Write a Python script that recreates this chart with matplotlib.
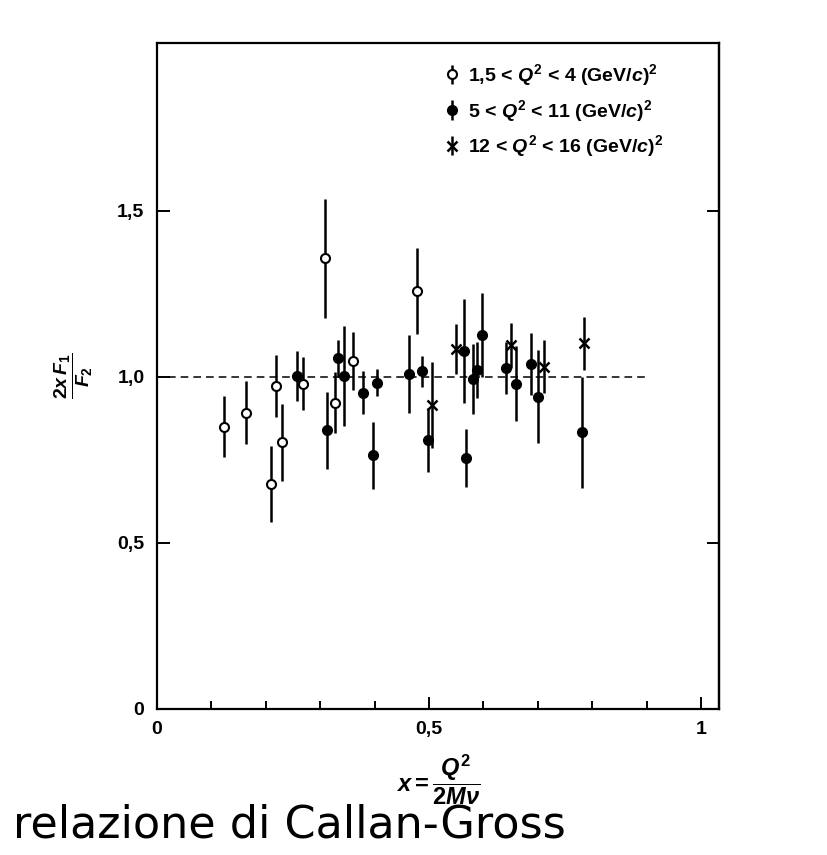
import matplotlib
matplotlib.use("Agg")
import matplotlib.pyplot as plt
from matplotlib.container import ErrorbarContainer
from matplotlib.legend_handler import HandlerErrorbar
from matplotlib.ticker import FixedLocator, MultipleLocator

plt.rcParams["font.family"] = ["Liberation Sans", "DejaVu Sans"]
plt.rcParams["font.weight"] = "bold"
plt.rcParams["mathtext.fontset"] = "custom"
plt.rcParams["mathtext.rm"] = "Liberation Sans:bold"
plt.rcParams["mathtext.it"] = "Liberation Sans:italic:bold"
plt.rcParams["mathtext.bf"] = "Liberation Sans:bold"

# 1,5 < Q^2 < 4 (GeV/c)^2
x_low = [0.123, 0.164, 0.209, 0.218, 0.229, 0.268, 0.309, 0.327, 0.360, 0.478]
r_low = [0.850, 0.893, 0.678, 0.973, 0.803, 0.980, 1.357, 0.923, 1.048, 1.259]
e_low = [0.092, 0.095, 0.115, 0.093, 0.115, 0.080, 0.180, 0.093, 0.088, 0.130]

# 5 < Q^2 < 11 (GeV/c)^2
x_mid = [0.257, 0.313, 0.333, 0.343, 0.378, 0.397, 0.404, 0.464, 0.487, 0.498,
         0.564, 0.568, 0.580, 0.589, 0.597, 0.642, 0.659, 0.688, 0.701, 0.782]
r_mid = [1.003, 0.839, 1.056, 1.003, 0.953, 0.764, 0.983, 1.009, 1.017, 0.810,
         1.078, 0.757, 0.994, 1.021, 1.127, 1.028, 0.979, 1.039, 0.941, 0.833]
e_mid = [0.076, 0.116, 0.055, 0.150, 0.066, 0.100, 0.040, 0.116, 0.047, 0.097,
         0.157, 0.087, 0.105, 0.084, 0.127, 0.078, 0.113, 0.093, 0.140, 0.166]

# 12 < Q^2 < 16 (GeV/c)^2
x_high = [0.505, 0.550, 0.650, 0.711, 0.785]
r_high = [0.916, 1.085, 1.096, 1.031, 1.101]
e_high = [0.130, 0.075, 0.068, 0.080, 0.080]

labels = [r"1,5 < $Q^2$ < 4 (GeV/$c$)$^2$",
          r"5 < $Q^2$ < 11 (GeV/$c$)$^2$",
          r"12 < $Q^2$ < 16 (GeV/$c$)$^2$"]

fig = plt.figure(figsize=(8.27, 8.55), dpi=100)
ax = fig.add_axes([0.1898, 0.1708, 0.6796, 0.7789])

kw = dict(ls="none", ecolor="black", elinewidth=1.8, capsize=0)
h1 = ax.errorbar(x_low, r_low, yerr=e_low, fmt="o", ms=6.5, mfc="white",
                 mec="black", mew=1.5, **kw)
h2 = ax.errorbar(x_mid, r_mid, yerr=e_mid, fmt="o", ms=7, mfc="black",
                 mec="black", **kw)
h3 = ax.errorbar(x_high, r_high, yerr=e_high, fmt="x", ms=7, mec="black",
                 mew=1.8, **kw)

# Callan-Gross expectation
ax.plot([0.02, 0.905], [1.0, 1.0], color="black", lw=1.1, ls=(0, (5, 3.3)))

ax.set_xlim(0, 1.033)
ax.set_ylim(0, 2.006)

ax.xaxis.set_major_locator(FixedLocator([0, 0.5, 1.0]))
ax.xaxis.set_minor_locator(MultipleLocator(0.1))
ax.set_xticklabels(["0", "0,5", "1"])
ax.yaxis.set_major_locator(FixedLocator([0, 0.5, 1.0, 1.5]))
ax.set_yticklabels(["0", "0,5", "1,0", "1,5"])
ax.tick_params(which="major", direction="in", length=9, width=1.4,
               labelsize=14, pad=9)
ax.tick_params(which="minor", direction="in", length=6, width=1.4)
ax.tick_params(axis="y", which="minor", left=False)

sec = ax.secondary_yaxis("right")
sec.set_yticks([0.5, 1.5])
sec.tick_params(direction="in", length=9, width=1.4, labelright=False)
sec.spines["right"].set_linewidth(1.6)

for sp in ax.spines.values():
    sp.set_linewidth(1.6)

ax.set_ylabel(r"$\dfrac{2x\,F_1}{F_2}$", fontsize=14, labelpad=16)
ax.set_xlabel(r"$x = \dfrac{Q^2}{2M\nu}$", fontsize=17, labelpad=10)

ax.legend([h1, h2, h3], labels, loc="upper left",
          bbox_to_anchor=(0.497, 0.983), frameon=False, fontsize=14,
          handlelength=0.8, handletextpad=0.45, labelspacing=0.5,
          borderaxespad=0,
          handler_map={ErrorbarContainer: HandlerErrorbar(yerr_size=0.5)})

fig.text(0.0157, 0.020, "relazione di Callan-Gross", family="DejaVu Sans",
         weight="normal", fontsize=32, va="baseline", ha="left")

fig.savefig("out.png", dpi=100)
